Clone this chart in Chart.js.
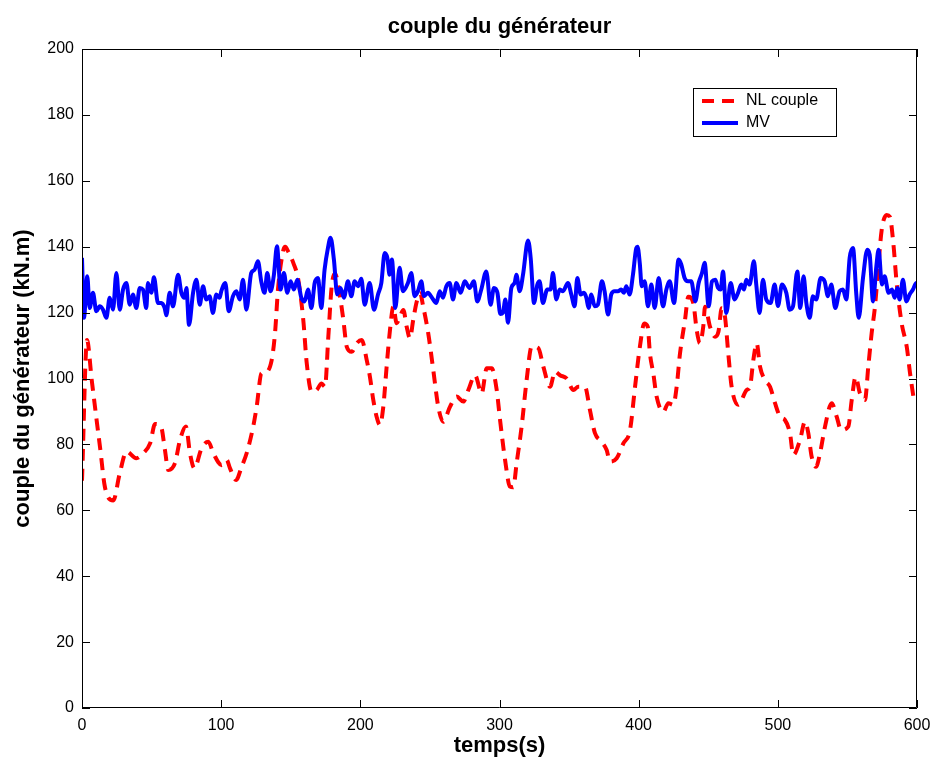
<!DOCTYPE html>
<html>
<head>
<meta charset="utf-8">
<title>couple du générateur</title>
<script src="https://cdn.jsdelivr.net/npm/chart.js@4.4.1/dist/chart.umd.min.js"></script>
<style>
    html, body { margin: 0; padding: 0; background: #fff; }
    #wrap { width: 935px; height: 766px; }
</style>
</head>
<body>
<div id="wrap"><canvas id="chart" width="935" height="766"></canvas></div>
<script>
const chartTitle = 'couple du générateur';
const xTitle = 'temps(s)';
const yTitle = 'couple du générateur (kN.m)';
const seriesNames = ['NL couple', 'MV'];
const xTicks = [0, 100, 200, 300, 400, 500, 600];
const yTicks = [0, 20, 40, 60, 80, 100, 120, 140, 160, 180, 200];

// NL couple (red dashed)
const nlTime = [0, 3.6, 7, 10.5, 13, 16.5, 22.5, 27, 32, 39, 44, 49, 52.5, 56.8, 59.6, 62, 66.8, 70.4, 74.7, 77.6,
    80.7, 86, 90.8, 94.4, 100.4, 104, 106.3, 110.7, 114.7, 118.3, 123, 125.5, 129, 131.5, 136.3, 138.7, 141, 144.7, 146, 148.2,
    151.9, 155.4, 159, 161.5, 165, 168.6, 172.2, 174.6, 177, 179.4, 181.8, 185.4, 187.8, 190.2, 193.8, 197.4, 201, 204.6, 206.9, 209.3,
    211.7, 214.1, 216.5, 218.9, 221.3, 223.7, 226.1, 228.5, 230.9, 233.3, 235.7, 238, 240.5, 242.9, 245.2, 248.8, 252.4, 256, 259.6, 264.4,
    269.2, 274, 277.6, 282.4, 287.2, 290.8, 294.4, 298, 300.4, 304, 307.5, 309.9, 312.3, 315.9, 319.5, 323.1, 327.9, 331.5, 336.3, 339.9,
    343.5, 348.3, 353.1, 356.6, 361.4, 365, 368.6, 373.4, 377, 379.4, 384.2, 389, 393.8, 397.4, 400.9, 404, 406.5, 408.1, 410.5, 412.9,
    417.7, 421.3, 424.9, 427.3, 429.7, 433.3, 435.7, 439.3, 441.7, 444, 446.4, 447.7, 451.3, 454.9, 457.3, 459.7, 462, 464.4, 466.8, 471.6,
    477.6, 480, 482.4, 484.8, 487.2, 490.8, 494.4, 498, 501.6, 505.1, 508.7, 511.1, 515.9, 519.5, 521.9, 524.3, 527.4, 530.3, 533.9, 538.7,
    542.3, 545.4, 550.6, 553.1, 555.9, 559, 562.6, 565, 567.4, 569.8, 572.2, 574.6, 578.2, 580.5, 583, 585.4, 589, 592.6, 595, 597.4];
const nlCouple = [69, 111.7, 99.5, 87.4, 79, 67, 63, 71, 77.8, 75.8, 77.3, 80.4, 86.2, 85.4, 78.3, 72.2, 74.3, 81.3, 85.4, 77.3,
    72.8, 78.9, 80.8, 77.3, 73.7, 75.3, 72.8, 69.2, 73.2, 77.3, 85.4, 91.4, 101.6, 101.8, 105.6, 113.8, 127.9, 139, 140, 138.5,
    135, 130, 117.8, 104.6, 96, 96.5, 98.5, 97.5, 112.7, 127.9, 131.9, 124.8, 117.8, 109.7, 108.1, 110.7, 111.7, 105.6, 100.5, 93.5,
    88.4, 85.9, 91.4, 103.6, 114.7, 121.8, 116.8, 118.8, 120.8, 115.7, 112.2, 117.8, 123.3, 125.9, 121.8, 113.7, 102.6, 91.4, 86.9, 91.4,
    94.5, 93, 96.5, 101, 95.5, 103.1, 103.1, 96.5, 87.4, 75.3, 67.2, 67, 74.3, 85.4, 99.5, 109.7, 109.2, 103.6, 97.5, 102.1,
    101, 100, 96.5, 97.5, 97.5, 90.4, 83.4, 80.8, 78.3, 74.8, 75.8, 80.3, 84.4, 97.5, 109.7, 116.7, 115.7, 107.6, 101.6, 94.5,
    89.9, 92.5, 92, 97.5, 107.6, 117.8, 124.8, 122.8, 114.7, 110.7, 115.7, 121.8, 115.7, 112.7, 114.2, 121.3, 118.8, 107.6, 97.5, 92,
    96.5, 97.5, 105.6, 110.7, 103.6, 99.5, 97.5, 92.5, 88.4, 87.4, 83.4, 76.8, 81.3, 86.9, 83.4, 76.3, 73.2, 77.3, 85.4, 92.5,
    88.4, 84.4, 85.4, 93.5, 100.5, 95.5, 93.5, 103.6, 113.7, 121.8, 133.9, 145, 149.6, 149.1, 141, 128.9, 116.7, 109.7, 101.6, 94.5];

// MV (blue solid)
const mvTime = [0, 1.4, 3.8, 5.5, 7.9, 10.3, 12.7, 15.1, 17.5, 19.9, 22.3, 24.7, 27.1, 29.5, 31.9, 34.3, 36.6, 39, 41.5, 43.8,
    46.2, 47.4, 49.8, 51.7, 54.6, 57, 59.4, 60.6, 63, 65.4, 69, 71.4, 73.7, 75, 76.9, 79.8, 82.2, 84.6, 87, 89.3,
    91.7, 94.1, 96.5, 98.9, 100.1, 103, 105.4, 108.5, 110.9, 113.3, 115.7, 118.1, 121.6, 124, 126.4, 128.8, 131.2, 133.1, 135.5, 137.9,
    140.1, 142.7, 145.1, 147.5, 149.9, 152.3, 154.7, 157.6, 160, 162.4, 164.8, 167.2, 169.6, 171.9, 174.3, 176.7, 178.6, 181, 183.4, 185.8,
    188.2, 191.1, 193.5, 195.9, 198.3, 200.7, 203.1, 206.7, 209.8, 212.7, 215.1, 217.5, 219.4, 221, 222.7, 225.1, 228.2, 230.6, 234.2, 236.6,
    239, 241.4, 243.8, 245.7, 248.6, 251.5, 254.6, 257, 259.4, 261.8, 264.2, 266.6, 269, 272.1, 275, 278.5, 281.6, 284, 286.9, 290.5,
    293.6, 296, 298.5, 300.6, 302.5, 304.2, 306.1, 308.5, 310.9, 312.1, 314.5, 316.9, 320.5, 322.4, 324.8, 327.2, 328.8, 331.2, 334.3, 336.7,
    338.4, 340.8, 343.2, 345.6, 349.2, 351.6, 354, 355.9, 358.3, 360.7, 362.4, 364, 366, 368.4, 370.7, 373.6, 375.5, 378, 380.3, 382.7,
    385.1, 387.5, 389.4, 391.1, 393.5, 395.9, 398.3, 399.2, 400.8, 402.2, 404.3, 406.7, 409.1, 411.5, 414.4, 417.5, 419.9, 422.3, 425.4, 428.7,
    430.6, 433, 435.4, 437.8, 440.7, 443.1, 445.5, 447.4, 450.3, 452.7, 455.1, 457, 458.9, 460.6, 463, 466.1, 468.9, 471.4, 473.7, 475.7,
    477.3, 479.7, 482.8, 484.5, 486.9, 489.3, 491.7, 494.8, 497.7, 500.1, 503, 506.1, 508.5, 510.9, 514, 516.1, 518.5, 520.5, 522.9, 525.2,
    527.6, 530.8, 533.6, 536, 538.4, 541.3, 544.4, 546.8, 549.2, 551.6, 554, 556.4, 558.1, 561.2, 564.3, 566, 568.4, 570.8, 572.4, 574.8,
    576.7, 579.6, 582, 583.9, 585.8, 587.5, 589.9, 592.3, 594.7, 597.1, 599.5, 600];
const mvCouple = [136.6, 118.4, 131, 121.4, 126, 120.4, 121.9, 120.9, 118.4, 124.5, 120.9, 132, 120.9, 127, 129, 122.4, 125.5, 121.4, 127.5, 127,
    121.4, 129, 126, 130.7, 122.9, 122.9, 121.4, 119.2, 126, 121.9, 131.5, 126, 124.5, 127.5, 116.3, 126, 130, 122.4, 128, 124,
    125, 119.9, 125.5, 124.5, 126.5, 129, 120.4, 125, 126.5, 124, 130, 120.9, 132, 133, 135.6, 129.5, 126, 132, 126.5, 131.5,
    140.1, 127, 132, 126, 129.5, 127, 130, 124.5, 123.4, 127, 121.4, 129, 130.5, 121.4, 133, 139.6, 142.7, 136.1, 125.5, 127.5,
    124.5, 129.5, 125, 129.5, 128, 130.3, 122.4, 129, 120.9, 125.5, 129, 138.1, 136.6, 131.5, 136.1, 121.4, 133.6, 126.5, 129, 132,
    125, 126.5, 129.5, 125, 126, 124.5, 122.9, 126.5, 124.5, 128, 129, 124, 129, 126, 129.5, 127.5, 129.5, 123.4, 127, 132.5,
    122.4, 127.5, 126, 119.6, 120, 124, 116.9, 127.5, 129, 131.5, 126.5, 131.5, 141.9, 136.6, 122.9, 128.5, 129.5, 122.9, 127, 127,
    132, 124, 127, 126.5, 129, 125.5, 121.9, 130.5, 125.5, 126, 124.5, 121.4, 125.5, 121.9, 122.4, 129.5, 126.5, 119.4, 125.5, 126.5,
    126.5, 127, 126, 128, 125.5, 131.5, 139.6, 140, 135, 128, 129.5, 121.9, 128.5, 121.4, 130.5, 121.9, 127, 129.5, 122.9, 136.1,
    134.6, 130.5, 129.5, 129.5, 123.4, 129, 132, 135.1, 121.9, 129.5, 130, 127.5, 127, 132.5, 119.9, 129, 124, 126, 128.5, 127,
    130, 128.5, 135.6, 128.5, 119.9, 130, 124, 122.9, 128.5, 122, 128.5, 126, 120.9, 121.9, 132.5, 121.4, 131, 122.9, 118.4, 125,
    124, 130.5, 129.5, 125, 128.5, 121.4, 126.5, 127, 124, 136.6, 139.6, 125.5, 118.4, 130.5, 139.1, 137.6, 123.4, 134.1, 139.1, 128.5,
    131, 126, 127, 124.5, 127.5, 124, 130, 123.4, 125.5, 127, 129, 128.5];

const FONT = '"Liberation Sans", Arial, Helvetica, sans-serif';

function toPoints(xs, ys) {
    return xs.map((x, i) => ({ x: x, y: ys[i] }));
}

// box round the plot and inward ticks on every side, as in MATLAB
const frameBox = {
    id: 'frameBox',
    afterDatasetsDraw(chart) {
        const { ctx, chartArea: a, scales } = chart;
        const len = 8;
        ctx.save();
        ctx.strokeStyle = '#000';
        ctx.lineWidth = 1;
        ctx.beginPath();
        ctx.rect(a.left + 0.5, a.top + 0.5, a.right - a.left - 1, a.bottom - a.top - 1);
        xTicks.forEach(v => {
            const px = Math.round(scales.x.getPixelForValue(v)) + 0.5;
            ctx.moveTo(px, a.bottom); ctx.lineTo(px, a.bottom - len);
            ctx.moveTo(px, a.top); ctx.lineTo(px, a.top + len);
        });
        yTicks.forEach(v => {
            const py = Math.round(scales.y.getPixelForValue(v)) + 0.5;
            ctx.moveTo(a.left, py); ctx.lineTo(a.left + len, py);
            ctx.moveTo(a.right, py); ctx.lineTo(a.right - len, py);
        });
        ctx.stroke();
        ctx.restore();
    }
};

const legendBox = {
    id: 'legendBox',
    afterDraw(chart) {
        const { ctx, chartArea: a } = chart;
        const x0 = a.right - 224, y0 = a.top + 39, w = 143, h = 48;
        ctx.save();
        ctx.fillStyle = '#fff';
        ctx.fillRect(x0, y0, w, h);
        ctx.strokeStyle = '#000';
        ctx.lineWidth = 1;
        ctx.strokeRect(x0 + 0.5, y0 + 0.5, w, h);
        chart.data.datasets.forEach((ds, i) => {
            const yy = y0 + 13 + i * 22;
            ctx.beginPath();
            ctx.setLineDash(ds.borderDash || []);
            ctx.strokeStyle = ds.borderColor;
            ctx.lineWidth = ds.borderWidth;
            ctx.moveTo(x0 + 9, yy);
            ctx.lineTo(x0 + 45, yy);
            ctx.stroke();
            ctx.setLineDash([]);
            ctx.fillStyle = '#000';
            ctx.font = '16px ' + FONT;
            ctx.textBaseline = 'middle';
            ctx.fillText(ds.label, x0 + 53, yy);
        });
        ctx.restore();
    }
};

new Chart(document.getElementById('chart'), {
    type: 'line',
    data: {
        datasets: [{
            label: seriesNames[0],
            data: toPoints(nlTime, nlCouple),
            borderColor: '#ff0000',
            borderWidth: 4,
            borderDash: [12, 8],
            pointRadius: 0,
            cubicInterpolationMode: 'monotone',
            order: 1
        }, {
            label: seriesNames[1],
            data: toPoints(mvTime, mvCouple),
            borderColor: '#0000ff',
            borderWidth: 4,
            pointRadius: 0,
            cubicInterpolationMode: 'monotone',
            order: 0
        }]
    },
    options: {
        responsive: false,
        animation: false,
        devicePixelRatio: 1,
        layout: { padding: { left: 0, right: 18, top: 0, bottom: 0 } },
        plugins: {
            legend: { display: false },
            tooltip: { enabled: false },
            title: {
                display: true,
                text: chartTitle,
                fullSize: false,
                color: '#000',
                font: { family: FONT, size: 22, weight: 'bold', lineHeight: 1 },
                padding: { top: 16, bottom: 11 }
            }
        },
        scales: {
            x: {
                type: 'linear',
                min: 0,
                max: 600,
                afterBuildTicks: s => { s.ticks = xTicks.map(v => ({ value: v })); },
                afterFit: s => { s.height = 58; s.paddingLeft = 0; s.paddingRight = 0; },
                grid: { display: false, drawTicks: false },
                border: { display: false },
                ticks: { color: '#000', padding: 8, maxRotation: 0, font: { family: FONT, size: 16 } },
                title: {
                    display: true,
                    text: xTitle,
                    color: '#000',
                    font: { family: FONT, size: 22, weight: 'bold' },
                    padding: { top: 0, bottom: 7 }
                }
            },
            y: {
                type: 'linear',
                min: 0,
                max: 200,
                afterBuildTicks: s => { s.ticks = yTicks.map(v => ({ value: v })); },
                afterFit: s => { s.width = 82; s.paddingTop = 0; s.paddingBottom = 0; },
                grid: { display: false, drawTicks: false },
                border: { display: false },
                ticks: { color: '#000', padding: 8, font: { family: FONT, size: 16 } },
                title: {
                    display: true,
                    text: yTitle,
                    color: '#000',
                    font: { family: FONT, size: 22, weight: 'bold' },
                    padding: { top: 10, bottom: 10 }
                }
            }
        }
    },
    plugins: [frameBox, legendBox]
});
</script>
</body>
</html>
